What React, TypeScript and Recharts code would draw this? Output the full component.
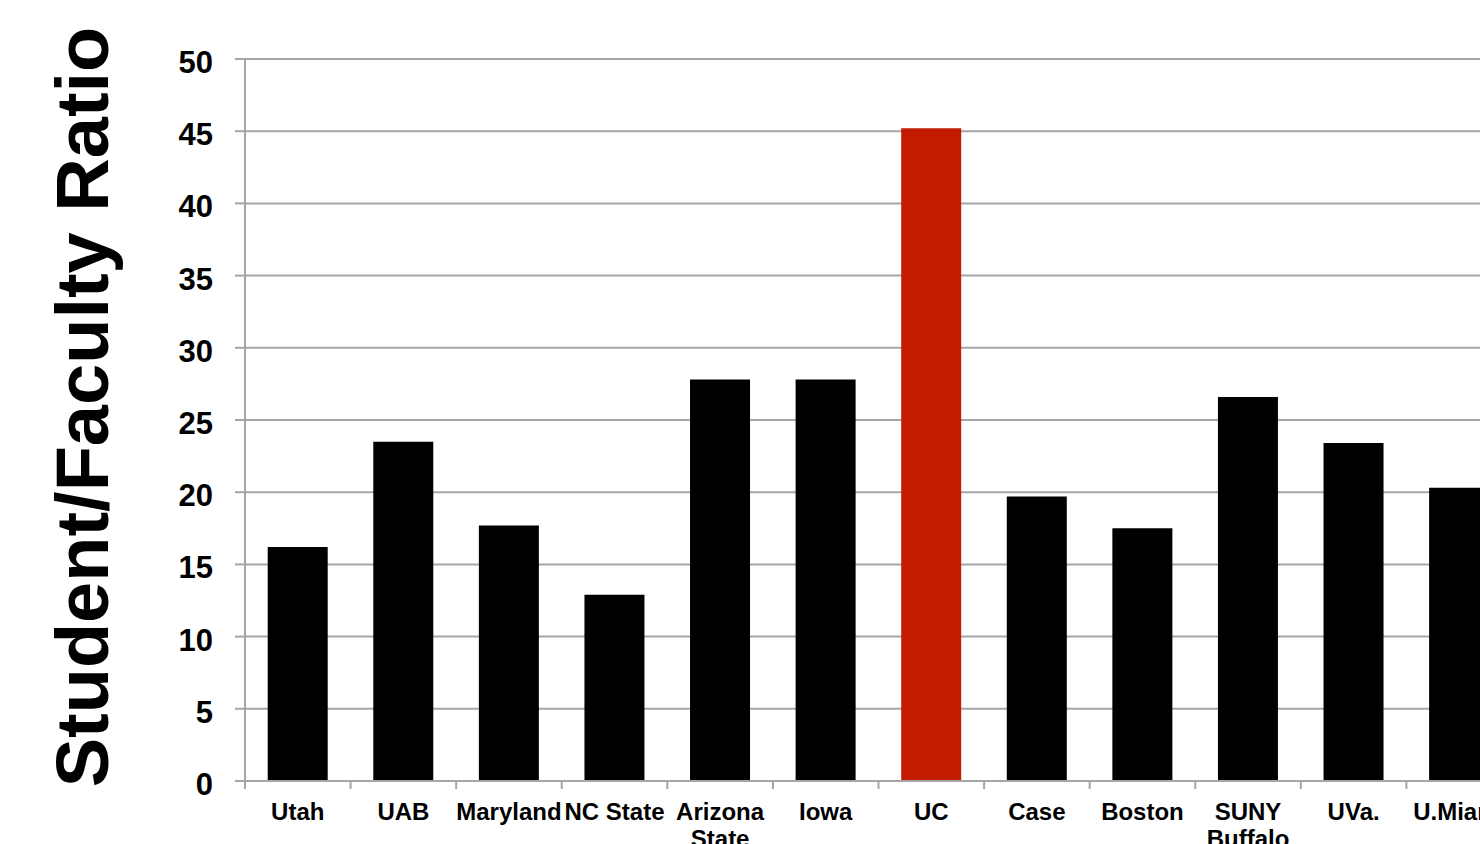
import { BarChart, Bar, Cell, XAxis, YAxis, CartesianGrid } from 'recharts';

const schools = ['Utah', 'UAB', 'Maryland', 'NC State', 'Arizona\nState', 'Iowa', 'UC', 'Case', 'Boston', 'SUNY\nBuffalo', 'UVa.', 'U.Miami'];
const ratios = [16.2, 23.5, 17.7, 12.9, 27.8, 27.8, 45.2, 19.7, 17.5, 26.6, 23.4, 20.3];
const highlight = 'UC';
const yTicks = [0, 5, 10, 15, 20, 25, 30, 35, 40, 45, 50];

const data = schools.map((name, i) => ({ name, ratio: ratios[i] }));

const font = '"Liberation Sans", Arial, Helvetica, sans-serif';
const gridColor = '#a6a6a6';

function SchoolTick(props: any) {
    const { x, y, payload, index } = props;
    const half = payload && payload.offset ? payload.offset : 52.8;
    const lines = String(payload.value).split('\n');
    return (
        <g>
            <line x1={x - half} y1={y - 8} x2={x - half} y2={y} stroke={gridColor} strokeWidth={2} />
            {index === schools.length - 1 && (
                <line x1={x + half} y1={y - 8} x2={x + half} y2={y} stroke={gridColor} strokeWidth={2} />
            )}
            <text x={x} y={y + 31} textAnchor="middle" fontFamily={font} fontWeight="bold" fontSize={24} fill="#000">
                {lines.map((l, i) => (
                    <tspan key={i} x={x} dy={i === 0 ? 0 : 27}>{l}</tspan>
                ))}
            </text>
        </g>
    );
}

export default function App() {
    return (
        <div style={{ position: 'absolute', left: 0, top: 0, width: 1480, height: 844, overflow: 'hidden', background: '#fff' }}>
            <BarChart
                width={1530}
                height={844}
                data={data}
                margin={{ top: 59, right: 18, left: 0, bottom: 0 }}
                barCategoryGap="21.5%"
            >
                <CartesianGrid vertical={false} stroke={gridColor} strokeWidth={2} />
                <XAxis
                    dataKey="name"
                    interval={0}
                    tickLine={false}
                    axisLine={{ stroke: gridColor, strokeWidth: 2 }}
                    tick={<SchoolTick />}
                    height={63}
                />
                <YAxis
                    width={245}
                    domain={[0, 50]}
                    ticks={yTicks}
                    interval={0}
                    tickSize={10}
                    tickMargin={22}
                    tickLine={{ stroke: gridColor, strokeWidth: 2 }}
                    axisLine={{ stroke: gridColor, strokeWidth: 2 }}
                    tick={{ fontFamily: font, fontWeight: 'bold', fontSize: 31, fill: '#000', dy: 3 }}
                    label={{
                        value: 'Student/Faculty Ratio',
                        angle: -90,
                        position: 'insideLeft',
                        content: () => (
                            <text
                                x={108}
                                y={407}
                                transform="rotate(-90 108 407)"
                                textAnchor="middle"
                                fontFamily={font}
                                fontWeight="bold"
                                fontSize={74}
                                fill="#000"
                            >
                                Student/Faculty Ratio
                            </text>
                        ),
                    }}
                />
                <Bar dataKey="ratio" isAnimationActive={false}>
                    {data.map((d, i) => (
                        <Cell key={`cell-${i}`} fill={d.name === highlight ? '#c11c00' : '#000000'} />
                    ))}
                </Bar>
            </BarChart>
        </div>
    );
}
